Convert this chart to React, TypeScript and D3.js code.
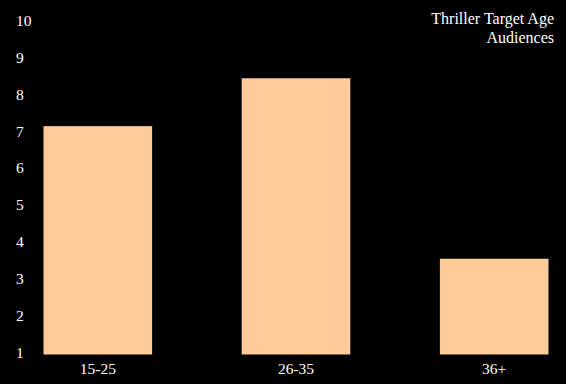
import React from "react";
import * as d3 from "d3";

const categories = ["15-25", "26-35", "36+"];
const values = [7.2, 8.5, 3.6];
const yTicks = [1, 2, 3, 4, 5, 6, 7, 8, 9, 10];
const titleLines = ["Thriller Target Age", "Audiences"];

const W = 566;
const H = 384;

export default function App() {
  const x = d3.scaleBand<string>().domain(categories).range([43.5, 548.5]).paddingInner(0.452).paddingOuter(0);
  const y = d3.scaleLinear().domain([1, 10]).range([354.5, 23]);
  const font = "'Liberation Serif', 'Times New Roman', serif";
  return (
    <div style={{ position: "fixed", left: 0, top: 0, width: W, height: H, background: "#000" }}>
      <svg width={W} height={H} style={{ display: "block" }}>
        <rect x={0} y={0} width={W} height={H} fill="#000" />
        {categories.map((c, i) => (
          <rect key={c} x={x(c)} y={y(values[i])} width={x.bandwidth()} height={y(1) - y(values[i])} fill="#FFCC99" />
        ))}
        {yTicks.map((t) => (
          <text key={t} x={16} y={y(t) - 2.5} dominantBaseline="central" fill="#fff" fontFamily={font} fontSize={15.5}>
            {t}
          </text>
        ))}
        {categories.map((c) => (
          <text key={c} x={(x(c) as number) + x.bandwidth() / 2} y={374} textAnchor="middle" fill="#fff" fontFamily={font} fontSize={15.5}>
            {c}
          </text>
        ))}
        {titleLines.map((l, i) => (
          <text key={l} x={554} y={24 + i * 19.3} textAnchor="end" fill="#fff" fontFamily={font} fontSize={16}>
            {l}
          </text>
        ))}
      </svg>
    </div>
  );
}
